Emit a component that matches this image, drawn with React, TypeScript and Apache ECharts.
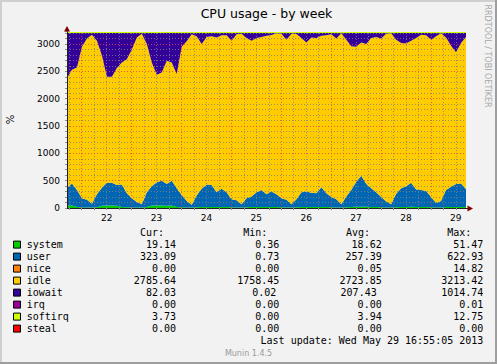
import React, { useEffect, useRef } from 'react';
import * as echarts from 'echarts';

// ---------- data ----------
const BASE_MS = Date.UTC(2013, 4, 21, 0, 0); // May 21 00:00
const START_HOUR = 16 + 55 / 60; // May 21 16:55
const SPAN_HOURS = 192; // 8 days
const SAMPLE_STEP = 2.4; // hours between samples

const dayLabels = ['22', '23', '24', '25', '26', '27', '28', '29'];
const dayNoonHours = [36, 60, 84, 108, 132, 156, 180, 204];
const yTickLabels = [0, 500, 1000, 1500, 2000, 2500, 3000];

const system = [40, 45, 20, 10, 10, 10, 15, 40, 45, 45,
  40, 20, 15, 10, 10, 10, 20, 45, 45, 45,
  40, 45, 20, 15, 10, 8, 15, 20, 20, 20,
  18, 20, 20, 15, 10, 8, 15, 18, 20, 20,
  18, 20, 18, 15, 10, 8, 15, 20, 20, 20,
  18, 20, 18, 15, 10, 8, 15, 20, 22, 25,
  22, 20, 20, 15, 10, 8, 15, 20, 20, 22,
  20, 20, 18, 15, 8, 10, 18, 20, 20, 20,
  19];

const user = [330, 405, 310, 170, 140, 70, 235, 330, 415, 415,
  380, 410, 255, 170, 100, 60, 270, 355, 425, 455,
  400, 455, 340, 225, 120, 52, 215, 330, 410, 400,
  272, 330, 270, 145, 130, 62, 165, 192, 270, 310,
  232, 280, 232, 165, 140, 62, 145, 270, 280, 260,
  252, 360, 252, 185, 150, 62, 195, 310, 458, 565,
  418, 340, 270, 185, 110, 62, 245, 340, 380, 438,
  320, 310, 292, 185, 82, 120, 312, 370, 420, 430,
  323];

const nice = [0, 0, 0, 0, 0, 0, 0, 0, 0, 0,
  0, 0, 0, 0, 0, 0, 0, 0, 0, 0,
  3, 0, 0, 0, 0, 0, 0, 0, 0, 0,
  0, 0, 0, 0, 0, 0, 0, 0, 0, 0,
  0, 0, 0, 0, 0, 0, 0, 0, 0, 0,
  0, 0, 0, 0, 0, 0, 0, 0, 0, 0,
  0, 0, 0, 0, 0, 0, 0, 0, 0, 0,
  0, 0, 0, 0, 0, 0, 0, 0, 0, 0,
  0];

const idle = [2010, 2080, 2240, 2770, 2950, 3090, 2810, 2420, 1940, 1940,
  2140, 2230, 2450, 2720, 3010, 3120, 2710, 2260, 1970, 1980,
  2250, 2160, 2090, 2710, 2920, 3120, 2910, 2650, 2700, 2720,
  2830, 2810, 2870, 2900, 3040, 3120, 2930, 2850, 2820, 2800,
  2900, 2865, 2945, 3010, 2930, 3120, 3025, 2820, 2730, 2840,
  2840, 2770, 2890, 2980, 2940, 3125, 2870, 2630, 2470, 2440,
  2560, 2750, 2840, 2900, 3070, 3125, 2820, 2660, 2610, 2600,
  2770, 2840, 2850, 2880, 3050, 3065, 2790, 2580, 2410, 2570,
  2786];

const iowait = [826, 676, 636, 256, 106, 36, 146, 416, 806, 806,
  646, 546, 486, 306, 86, 16, 206, 546, 766, 726,
  516, 546, 756, 256, 156, 26, 66, 206, 76, 66,
  86, 46, 46, 146, 26, 16, 96, 146, 96, 76,
  56, 41, 11, 16, 126, 16, 21, 96, 176, 86,
  96, 56, 46, 26, 106, 11, 126, 246, 256, 176,
  206, 96, 76, 106, 16, 11, 126, 186, 196, 146,
  96, 36, 46, 126, 66, 11, 86, 236, 356, 186,
  82];

const irq = [0, 0, 0, 0, 0, 0, 0, 0, 0, 0,
  0, 0, 0, 0, 0, 0, 0, 0, 0, 0,
  0, 0, 0, 0, 0, 0, 0, 0, 0, 0,
  0, 0, 0, 0, 0, 0, 0, 0, 0, 0,
  0, 0, 0, 0, 0, 0, 0, 0, 0, 0,
  0, 0, 0, 0, 0, 0, 0, 0, 0, 0,
  0, 0, 0, 0, 0, 0, 0, 0, 0, 0,
  0, 0, 0, 0, 0, 0, 0, 0, 0, 0,
  0];

const softirq = [5, 5, 4, 3, 3, 3, 4, 5, 5, 5,
  5, 4, 4, 3, 3, 3, 4, 5, 5, 5,
  5, 5, 4, 4, 3, 3, 4, 4, 4, 4,
  4, 4, 4, 4, 3, 3, 4, 4, 4, 4,
  4, 4, 4, 4, 3, 3, 4, 4, 4, 4,
  4, 4, 4, 4, 3, 3, 4, 4, 5, 5,
  5, 4, 4, 4, 3, 3, 4, 4, 4, 5,
  4, 4, 4, 4, 3, 3, 4, 4, 4, 4,
  4];

const steal = [0, 0, 0, 0, 0, 0, 0, 0, 0, 0,
  0, 0, 0, 0, 0, 0, 0, 0, 0, 0,
  0, 0, 0, 0, 0, 0, 0, 0, 0, 0,
  0, 0, 0, 0, 0, 0, 0, 0, 0, 0,
  0, 0, 0, 0, 0, 0, 0, 0, 0, 0,
  0, 0, 0, 0, 0, 0, 0, 0, 0, 0,
  0, 0, 0, 0, 0, 0, 0, 0, 0, 0,
  0, 0, 0, 0, 0, 0, 0, 0, 0, 0,
  0];

const legendNames = ['system', 'user', 'nice', 'idle', 'iowait', 'irq', 'softirq', 'steal'];
const curValues = ['19.14', '323.09', '0.00', '2785.64', '82.03', '0.00', '3.73', '0.00'];
const minValues = ['0.36', '0.73', '0.00', '1758.45', '0.02', '0.00', '0.00', '0.00'];
const avgValues = ['18.62', '257.39', '0.05', '2723.85', '207.43', '0.00', '3.94', '0.00'];
const maxValues = ['51.47', '622.93', '14.82', '3213.42', '1014.74', '0.01', '12.75', '0.00'];

const titleText = 'CPU usage - by week';
const yAxisName = '%';
const lastUpdate = 'Last update: Wed May 29 16:55:05 2013';
const watermark = 'RRDTOOL / TOBI OETIKER';
const versionText = 'Munin 1.4.5';

// ---------- styles ----------
const seriesColors = ['#00CC00', '#0066B3', '#FF8000', '#FFCC00', '#330099', '#990099', '#CCFF00', '#FF0000'];
const FONT = '"DejaVu Sans", sans-serif';
const MONO = '"DejaVu Sans Mono", monospace';
const GRID_COLOR = 'rgba(130,130,130,0.8)';
const MGRID_COLOR = 'rgba(225,70,70,0.8)';
const AXIS_COLOR = '#212121';
const ARROW_COLOR = '#800000';
const DOTS = [1, 2];
const minShift = [0, 0, 0, 0, -3, 0, 0, 0];
const avgShift = [0, 0, 0, 0, -5, 0, 0, 0];

const H = 3600 * 1000;
const toMs = (h: number) => BASE_MS + h * H;

function txt(x: number, y: number, text: string, family: string, size: number, align: string, fill = '#000', rotation = 0) {
  return {
    type: 'text',
    x,
    y,
    rotation,
    silent: true,
    style: {
      text,
      fill,
      fontFamily: family,
      fontSize: size,
      align,
      textAlign: align,
      verticalAlign: 'middle',
      textVerticalAlign: 'middle',
    },
  };
}

function buildOption() {
  const sampleTimes = system.map((_, i) => toMs(START_HOUR + i * SAMPLE_STEP));
  const pairs = (vals: number[]) => vals.map((v, i) => [sampleTimes[i], v]);
  const seriesValues = [system, user, nice, idle, iowait, irq, softirq, steal];

  const stackSeries = seriesValues.map((vals, i) => ({
    type: 'line',
    name: legendNames[i],
    stack: 'cpu',
    xAxisIndex: 0,
    data: pairs(vals),
    symbol: 'none',
    showSymbol: false,
    silent: true,
    z: 2,
    lineStyle: legendNames[i] === 'softirq' ? { width: 1, color: seriesColors[i] } : { width: 0, color: seriesColors[i] },
    areaStyle: { color: seriesColors[i], opacity: 1 },
    emphasis: { disabled: true },
  }));

  const sixHourTicks: number[] = [];
  for (let h = 18; h <= 204; h += 6) sixHourTicks.push(h);
  const hundreds: number[] = [];
  for (let v = 100; v <= 3200; v += 100) hundreds.push(v);

  const gridLines: any[] = [];
  sixHourTicks.forEach((h) => {
    gridLines.push({
      xAxis: h,
      lineStyle: { color: h % 24 === 0 ? MGRID_COLOR : GRID_COLOR, type: DOTS, width: 1 },
    });
  });
  hundreds.forEach((v) => {
    gridLines.push({
      yAxis: v,
      lineStyle: { color: v % 500 === 0 ? MGRID_COLOR : GRID_COLOR, type: DOTS, width: 1 },
    });
  });

  const gridSeries = {
    type: 'line',
    name: 'grid',
    xAxisIndex: 1,
    data: [[START_HOUR, 0]],
    symbol: 'none',
    silent: true,
    z: 10,
    lineStyle: { opacity: 0, width: 0 },
    emphasis: { disabled: true },
    markLine: {
      silent: true,
      z: 10,
      symbol: ['none', 'none'],
      label: { show: false },
      emphasis: { disabled: true },
      animation: false,
      data: gridLines,
    },
  };

  const g: any[] = [];
  // frame
  g.push({ type: 'rect', silent: true, shape: { x: 0, y: 0, width: 497, height: 2 }, style: { fill: '#CFCFCF' } });
  g.push({ type: 'rect', silent: true, shape: { x: 0, y: 0, width: 2, height: 364 }, style: { fill: '#CFCFCF' } });
  g.push({ type: 'rect', silent: true, shape: { x: 0, y: 362, width: 497, height: 2 }, style: { fill: '#9E9E9E' } });
  g.push({ type: 'rect', silent: true, shape: { x: 495, y: 0, width: 2, height: 364 }, style: { fill: '#9E9E9E' } });
  // title and side texts
  g.push(txt(266.5, 13, titleText, FONT, 12.5, 'center'));
  g.push(txt(10.8, 119.5, yAxisName, FONT, 10, 'center', '#000', Math.PI / 2));
  g.push(txt(487.5, 56, watermark, FONT, 8, 'center', '#A8A8A8', -Math.PI / 2));
  // axis extensions and arrows
  g.push({ type: 'line', silent: true, shape: { x1: 67, y1: 32, x2: 67, y2: 28 }, style: { stroke: AXIS_COLOR, lineWidth: 1 } });
  g.push({ type: 'line', silent: true, shape: { x1: 466, y1: 208.5, x2: 469, y2: 208.5 }, style: { stroke: AXIS_COLOR, lineWidth: 1 } });
  g.push({ type: 'polygon', silent: true, shape: { points: [[64, 31.5], [70, 31.5], [67, 26]] }, style: { fill: ARROW_COLOR } });
  g.push({ type: 'polygon', silent: true, shape: { points: [[467.5, 205.5], [467.5, 211.5], [473, 208.5]] }, style: { fill: ARROW_COLOR } });

  // legend
  g.push(txt(140, 232.7, 'Cur:', MONO, 10, 'left'));
  g.push(txt(243.3, 232.7, 'Min:', MONO, 10, 'left'));
  g.push(txt(346, 232.7, 'Avg:', MONO, 10, 'left'));
  g.push(txt(447.3, 232.7, 'Max:', MONO, 10, 'left'));
  legendNames.forEach((name, i) => {
    const y = 244.6 + i * 12;
    g.push({
      type: 'rect',
      silent: true,
      shape: { x: 13.5, y: y - 3.5, width: 7, height: 7 },
      style: { fill: seriesColors[i], stroke: '#000', lineWidth: 1 },
    });
    g.push(txt(26.7, y, name, MONO, 10, 'left'));
    g.push(txt(176, y, curValues[i], MONO, 10, 'right'));
    g.push(txt(279.3 + minShift[i], y, minValues[i], MONO, 10, 'right'));
    g.push(txt(381.7 + avgShift[i], y, avgValues[i], MONO, 10, 'right'));
    g.push(txt(483.3, y, maxValues[i], MONO, 10, 'right'));
  });
  g.push(txt(483.3, 340.4, lastUpdate, MONO, 10, 'right'));
  g.push(txt(248.5, 353.3, versionText, FONT, 8, 'center', '#9A9A9A'));

  return {
    animation: false,
    backgroundColor: '#F2F2F2',
    grid: { left: 67, right: 31, top: 32, bottom: 156, containLabel: false },
    xAxis: [
      {
        type: 'time',
        min: toMs(START_HOUR),
        max: toMs(START_HOUR + SPAN_HOURS),
        show: false,
        position: 'bottom',
        splitLine: { show: false },
      },
      {
        type: 'value',
        min: START_HOUR,
        max: START_HOUR + SPAN_HOURS,
        position: 'bottom',
        z: 12,
        axisLine: { show: true, lineStyle: { color: AXIS_COLOR, width: 1 } },
        axisTick: { show: true, customValues: sixHourTicks, length: 2, lineStyle: { color: '#909090' } },
        axisLabel: {
          show: true,
          customValues: dayNoonHours,
          formatter: (v: number) => {
            const idx = dayNoonHours.indexOf(Math.round(v));
            return idx >= 0 ? dayLabels[idx] : '';
          },
          margin: 5,
          fontSize: 9,
          fontFamily: FONT,
          color: '#000',
        },
        splitLine: { show: false },
      },
    ],
    yAxis: {
      type: 'value',
      min: 0,
      max: 3220,
      interval: 100,
      z: 12,
      axisLine: { show: true, lineStyle: { color: AXIS_COLOR, width: 1 } },
      axisTick: { show: true, length: 2, lineStyle: { color: '#909090' } },
      axisLabel: {
        show: true,
        margin: 7,
        fontSize: 9,
        fontFamily: FONT,
        color: '#000',
        showMaxLabel: false,
        formatter: (v: number) => (yTickLabels.indexOf(v) >= 0 ? String(v) : ''),
      },
      splitLine: { show: false },
    },
    series: [...stackSeries, gridSeries],
    graphic: g,
  };
}

export default function App() {
  const ref = useRef<HTMLDivElement>(null);
  useEffect(() => {
    if (!ref.current) return;
    const chart = echarts.init(ref.current, null, { renderer: 'svg' });
    chart.setOption(buildOption() as any);
    return () => chart.dispose();
  }, []);
  return <div ref={ref} style={{ position: 'fixed', left: 0, top: 0, width: 497, height: 364 }} />;
}
